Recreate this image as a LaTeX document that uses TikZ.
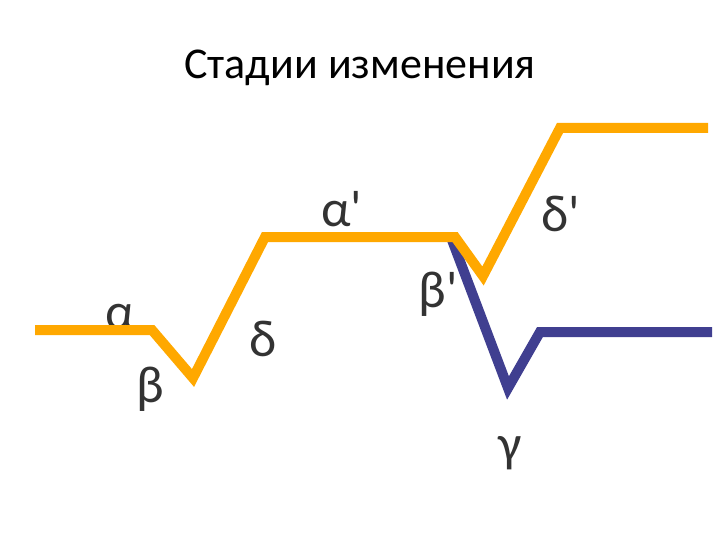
\documentclass[tikz,border=0pt]{standalone}
\usepackage{fontspec}
\setmainfont{Carlito}
\newfontfamily\lblfont{Carlito}
\definecolor{orng}{HTML}{FFA800}
\definecolor{blu}{HTML}{403F90}
\definecolor{txt}{HTML}{333333}
\tikzset{
  lbl/.style={text=txt, font=\lblfont\fontsize{52}{56}\selectfont, inner sep=0pt},
  orngline/.style={draw=orng, line width=10pt, line join=miter},
  bluline/.style={draw=blu, line width=10pt, line join=miter},
}
\begin{document}
\begin{tikzpicture}[x=1pt,y=-1pt]
\useasboundingbox (0,0) rectangle (720,540);
\node[font=\fontsize{44}{48}\selectfont] (title) at (360,68) {Стадии изменения};
% blue path (behind)
\coordinate (b0) at (452,240);
\coordinate (b1) at (508,388);
\coordinate (b2) at (540,332);
\coordinate (b3) at (712,332);
\draw[bluline] (b0) -- (b1) -- (b2) -- (b3);
% orange path
\coordinate (o0) at (35,330);
\coordinate (o1) at (152,330);
\coordinate (o2) at (193,378);
\coordinate (o3) at (265,237);
\coordinate (o4) at (455,237);
\coordinate (o5) at (483,276);
\coordinate (o6) at (560,128);
\coordinate (o7) at (708,128);
\draw[orngline] (o0) -- (o1) -- (o2) -- (o3) -- (o4) -- (o5) -- (o6) -- (o7);
% labels
\node[lbl] (alpha) at (120,317) {α};
\draw[orngline] (o0) -- (o1);
\node[lbl] (beta) at (150,389) {β};
\node[lbl] (delta) at (263,339) {δ};
\node[lbl] (alpha2) at (342,209) {α'};
\node[lbl] (beta2) at (438,294) {β'};
\node[lbl] (delta2) at (561,214) {δ'};
\node[lbl] (gamma) at (510,453) {γ};
\end{tikzpicture}
\end{document}
